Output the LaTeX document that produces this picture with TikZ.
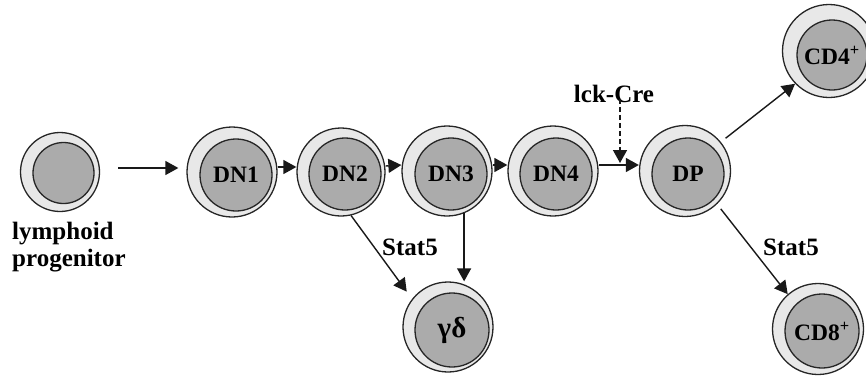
\documentclass[tikz,border=0pt]{standalone}
\usepackage{fontspec}
\setmainfont{Liberation Serif}
\usetikzlibrary{arrows.meta,calc}
\tikzset{
  outer/.style={circle, draw=black!85, fill=black!9, line width=1.3pt, inner sep=0pt, minimum size=90pt},
  inner/.style={circle, draw=black!85, fill=black!33, line width=1.3pt, inner sep=0pt, minimum size=72pt,
    font=\fontsize{23.5}{26}\selectfont\bfseries},
  lbl/.style={font=\fontsize{25}{27}\selectfont\bfseries, inner sep=0pt},
  arr/.style={draw=black!90, line width=1.4pt, -{Triangle[length=13pt,width=14pt]}},
}
\begin{document}
\begin{tikzpicture}[x=1pt,y=-1pt]
\useasboundingbox (0,0) rectangle (866,375);
% lymphoid progenitor
\node[outer, minimum size=79pt] (lp) at (60,172) {};
\node[inner, minimum size=61pt] (lpi) at (63.5,173) {};
\node[lbl, align=left, anchor=north west] (lplbl) at (12,222) {lymphoid\\progenitor};
% cells
\node[outer] (dn1) at (232,172) {};
\node[inner] (dn1i) at (236,175) {DN1};
\node[outer, minimum size=88pt] (dn2) at (341,172) {};
\node[inner] (dn2i) at (345,174) {DN2};
\node[outer] (dn3) at (447,171) {};
\node[inner] (dn3i) at (451,174) {DN3};
\node[outer] (dn4) at (553,171) {};
\node[inner] (dn4i) at (556,174) {DN4};
\node[outer, minimum size=91pt] (dp) at (685,171) {};
\node[inner] (dpi) at (688,174) {DP};
\node[outer, minimum size=93pt] (cd4) at (829,51) {};
\node[inner, minimum size=70pt] (cd4i) at (832,55) {CD4\textsuperscript{+}};
\node[outer] (gd) at (448,327) {};
\node[inner, minimum size=74pt, font=\fontsize{29}{30}\selectfont\bfseries] (gdi) at (452,330) {γδ};
\node[outer, minimum size=91pt] (cd8) at (818,329) {};
\node[inner, minimum size=74pt] (cd8i) at (822,331) {CD8\textsuperscript{+}};
% labels
\node[lbl] (lck) at (614,94) {lck-Cre};
\node[lbl] (st1) at (410,247) {Stat5};
\node[lbl] (st2) at (791,247) {Stat5};
\coordinate (lckend) at (620,163);
% connectors
\draw[arr] ([xshift=18pt,yshift=4pt]lp.east) -- ([xshift=-8pt,yshift=4pt]dn1.west);
\draw[arr] ([yshift=5pt]dn1.east) -- ([yshift=5pt]dn2.west);
\draw[arr] ([yshift=6pt]dn2.east) -- ([yshift=6pt]dn3.west);
\draw[arr] ([yshift=6pt]dn3.east) -- ([yshift=6pt]dn4.west);
\draw[arr] ([yshift=6pt]dn4.east) -- ([yshift=6pt]dp.west);
\draw[arr, dashed, dash pattern=on 5pt off 3pt] ([xshift=6pt,yshift=4pt]lck.south) -- (lckend);
\draw[arr, shorten >=9pt] (dn2.-77) -- (gd.142);
\draw[arr] (dn3.-68) -- (dn3.-68 |- gd.north);
\draw[arr, shorten <=6pt] (dp.39) -- (cd4.224);
\draw[arr, shorten <=6pt] (dp.-46) -- (cd8.131);
\end{tikzpicture}
\end{document}
